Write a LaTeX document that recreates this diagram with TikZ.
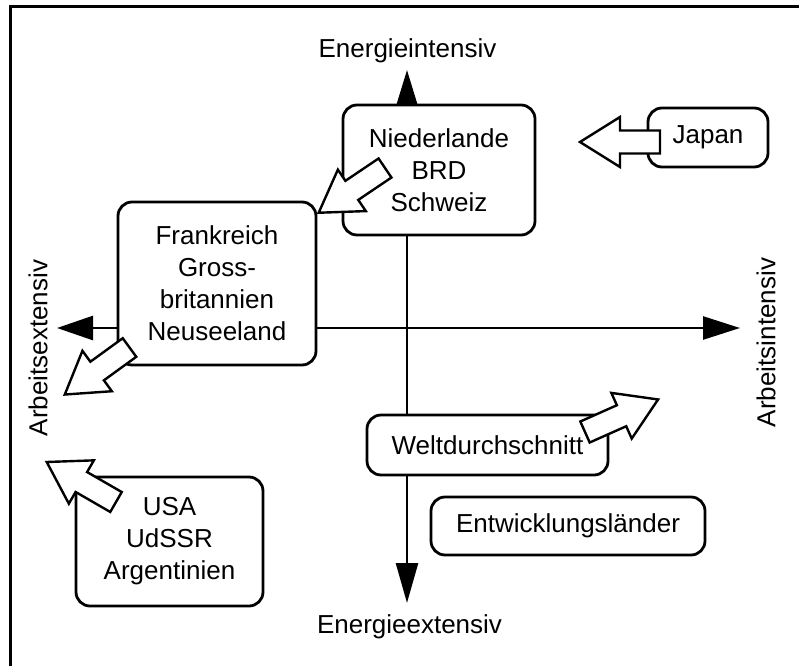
\documentclass[tikz,border=0pt]{standalone}
\usepackage{fontspec}
\setmainfont{Liberation Sans}
\usetikzlibrary{arrows.meta}
\newcommand{\diagfont}{\fontsize{26}{32}\selectfont}
\begin{document}
\begin{tikzpicture}[x=1pt,y=1pt,
  box/.style={draw, line width=2.8pt, rounded corners=14pt, fill=white,
    align=center, inner sep=0pt, font=\diagfont},
  axis/.style={line width=2.6pt},
  axislabel/.style={font=\diagfont, inner sep=0pt},
  blockarrow/.pic={\draw[line width=2.4pt, fill=white, line join=miter]
    (0,-11.5) -- (40,-11.5) -- (40,-25) -- (80,0) -- (40,25) -- (40,11.5) -- (0,11.5) -- cycle;}
]
\useasboundingbox (0,0) rectangle (799,-666);
% frame (top and left edges)
\draw[line width=3pt] (10.5,-666) -- (10.5,-7) -- (799,-7);

% axis end points
\coordinate (ntip) at (407,-70);
\coordinate (stip) at (407,-603);
\coordinate (wtip) at (57,-328);
\coordinate (etip) at (740,-328);

% country groups
\node[box, minimum width=192pt, minimum height=130pt] (nl) at (439,-170) {Niederlande\\BRD\\Schweiz};
\node[box, minimum width=198pt, minimum height=163pt] (fr) at (217,-283.5) {Frankreich\\Gross-\\britannien\\Neuseeland};
\node[box, minimum width=120pt, minimum height=59pt] (jp) at (708,-137.5) {Japan};
\node[box, minimum width=187pt, minimum height=129pt] (us) at (169.5,-541.5) {USA\\UdSSR\\Argentinien};
\node[box, minimum width=274pt, minimum height=58pt] (ew) at (568,-526) {Entwicklungsländer};

% axes
\draw[axis, -{Triangle[length=34pt, width=20pt]}] (ntip |- nl.north) -- (ntip);
\draw[axis, -{Triangle[length=40pt, width=22pt]}] (ntip |- nl.south) -- (stip);
\draw[axis, -{Triangle[length=36pt, width=24pt]}] (fr.west |- wtip) -- (wtip);
\draw[axis, -{Triangle[length=37pt, width=23pt]}] (fr.east |- etip) -- (etip);

\node[box, minimum width=241pt, minimum height=60pt] (wd) at (487.5,-445) {Weltdurchschnitt};

% axis labels
\node[axislabel, anchor=base] (eint) at (407.5,-58) {Energieintensiv};
\node[axislabel, anchor=base] (eext) at (409.5,-633) {Energieextensiv};
\node[axislabel, rotate=90] (aext) at (38,-348) {Arbeitsextensiv};
\node[axislabel, rotate=90] (aint) at (766,-342.5) {Arbeitsintensiv};

% development arrows
\pic[rotate=180] at (660,-142) {blockarrow};
\pic[rotate=214] at (385,-168) {blockarrow};
\pic[rotate=216] at (129.5,-347.5) {blockarrow};
\pic[rotate=24] at (585,-432) {blockarrow};
\pic[rotate=150] at (116,-502) {blockarrow};
\end{tikzpicture}
\end{document}
